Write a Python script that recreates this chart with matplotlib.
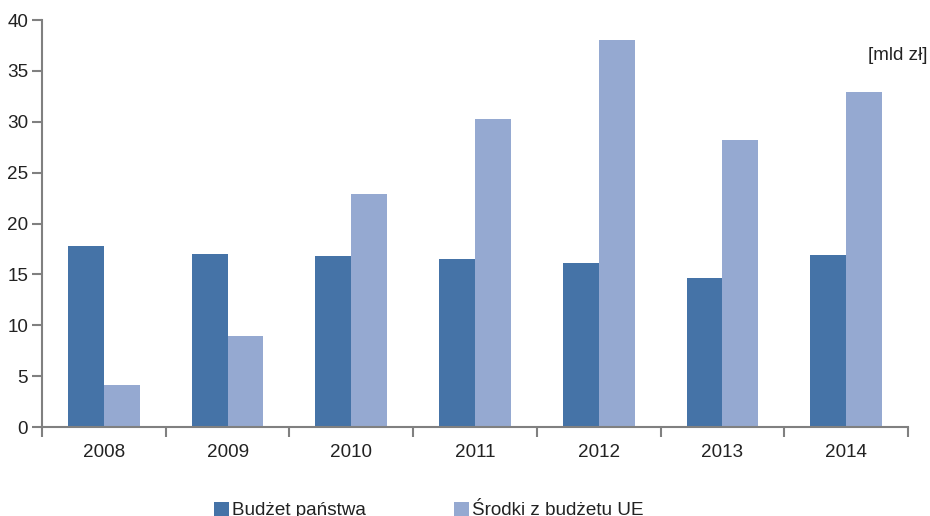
import numpy as np
import matplotlib.pyplot as plt
from matplotlib.patches import Rectangle

plt.rcParams['font.family'] = ['Liberation Sans', 'DejaVu Sans']

# Data [mld zł]
years = ['2008', '2009', '2010', '2011', '2012', '2013', '2014']
budzet_panstwa = [17.8, 17.0, 16.8, 16.5, 16.1, 14.6, 16.9]
srodki_ue = [4.1, 8.9, 22.9, 30.3, 38.0, 28.2, 32.9]

dark = '#4573A7'
light = '#95A9D1'
axis_grey = '#808080'
text_col = '#222222'
fs = 13.6

fig = plt.figure(figsize=(9.3, 5.16), dpi=100)
ax = fig.add_axes([42 / 930, 89 / 516, 866 / 930, 407 / 516])

x = np.arange(len(years))
w = 0.29
ax.bar(x - w / 2, budzet_panstwa, width=w, color=dark, linewidth=0)
ax.bar(x + w / 2, srodki_ue, width=w, color=light, linewidth=0)

ax.set_xlim(-0.5, len(years) - 0.5)
ax.set_ylim(0, 40)
ax.set_yticks(range(0, 41, 5))

# category labels centred, ticks on category boundaries
ax.set_xticks(np.arange(-0.5, len(years)), minor=False)
ax.set_xticklabels([])
ax.set_xticks(x, minor=True)
ax.set_xticklabels(years, minor=True)
ax.tick_params(axis='x', which='minor', length=0, pad=12, labelsize=fs, labelcolor=text_col)
ax.tick_params(axis='x', which='major', length=7, width=1.5, color=axis_grey, direction='out')
ax.tick_params(axis='y', length=7, width=1.5, color=axis_grey, direction='out',
               labelsize=fs, labelcolor=text_col, pad=3)

for side in ['top', 'right']:
    ax.spines[side].set_visible(False)
for side in ['left', 'bottom']:
    ax.spines[side].set_color(axis_grey)
    ax.spines[side].set_linewidth(1.5)

fig.text(927 / 930, 1 - 55 / 516, '[mld zł]', ha='right', va='center',
         fontsize=fs, color=text_col)

# legend along the bottom edge
for sx, col, label in [(214, dark, 'Budżet państwa'), (454, light, 'Środki z budżetu UE')]:
    fig.patches.append(Rectangle((sx / 930, 0), 15 / 930, 14 / 516,
                                 transform=fig.transFigure, color=col, linewidth=0))
    fig.text((sx + 18) / 930, 1 / 516, label, ha='left', va='baseline',
             fontsize=fs, color=text_col)

fig.savefig('out.png', dpi=100)
